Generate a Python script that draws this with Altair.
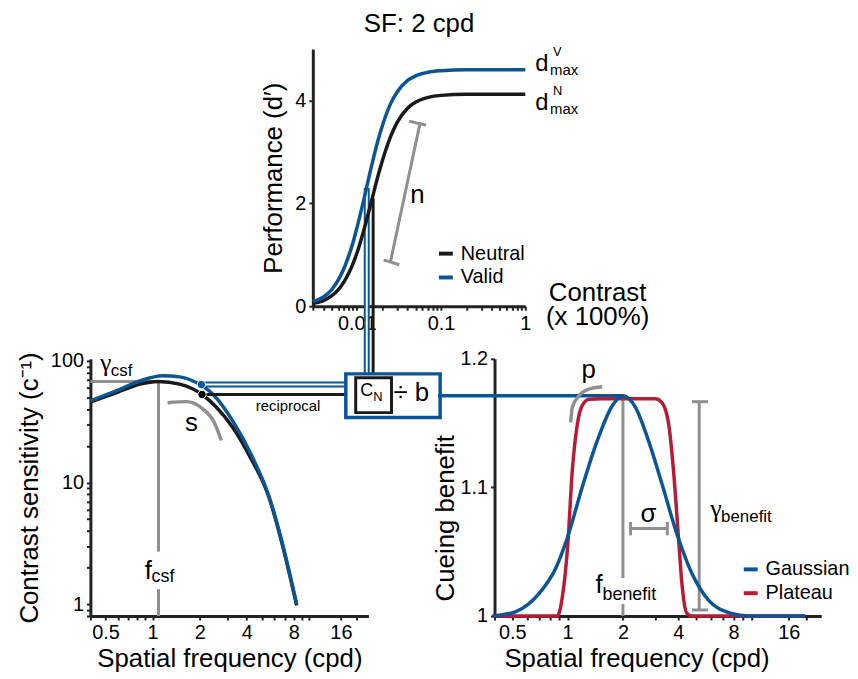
import altair as alt
import pandas as pd

FONT = "Liberation Sans"
GREEK = "Liberation Serif"
BLUE = "#0b5597"
RED = "#b81c35"
GRAY = "#8f8f8f"
INK = "#1a1a1a"

# ---------------- top panel: performance vs contrast (SF 2 cpd) ----------------
contrast = [0.003, 0.004, 0.005, 0.006, 0.007, 0.008, 0.009, 0.01, 0.012, 0.015, 0.018,
            0.02, 0.025, 0.03, 0.04, 0.05, 0.07, 0.1, 0.2, 0.5, 1.0]
dprime_neutral = [0.05, 0.11, 0.20, 0.32, 0.47, 0.64, 0.83, 1.03, 1.46, 2.06, 2.56,
                  2.82, 3.29, 3.57, 3.85, 3.97, 4.06, 4.10, 4.12, 4.12, 4.12]
dprime_valid = [0.09, 0.18, 0.32, 0.51, 0.73, 0.98, 1.24, 1.52, 2.05, 2.74, 3.25,
                3.50, 3.93, 4.16, 4.39, 4.48, 4.55, 4.58, 4.60, 4.60, 4.60]
perf_series = ["Neutral", "Valid"]
contrast_ticks = [0.003, 0.004, 0.005, 0.006, 0.007, 0.008, 0.009,
                  0.01, 0.02, 0.03, 0.04, 0.05, 0.06, 0.07, 0.08, 0.09,
                  0.1, 0.2, 0.3, 0.4, 0.5, 0.6, 0.7, 0.8, 0.9, 1]
contrast_labels = [0.01, 0.1, 1]
perf_ticks = [0, 2, 4]

# ---------------- left panel: contrast sensitivity functions ----------------
csf_freq_valid = [0.4, 0.59, 0.83, 1.16, 1.49, 1.9, 2.42, 3.24, 4.35, 5.56, 6.75, 8.34]
csf_valid = [47, 57, 68.5, 75.5, 74, 66.5, 53.5, 32.4, 16.2, 7.66, 3.19, 1.0]
csf_freq_neutral = [0.4, 0.59, 0.83, 1.09, 1.49, 2.07, 2.54, 3.24, 4.14, 5.56, 6.75, 8.34]
csf_neutral = [46, 55, 64.5, 67.8, 64.5, 53, 42, 28.6, 16.8, 7.5, 3.1, 0.98]
csf_ticks = [0.8, 0.9, 1, 2, 3, 4, 5, 6, 7, 8, 9, 10, 20, 30, 40, 50, 60, 70, 80, 90, 100]
csf_labels = [1, 10, 100]
sf_ticks = [0.4, 0.5, 0.6, 0.7, 0.8, 0.9, 1, 2, 3, 4, 5, 6, 7, 8, 9, 10, 16, 20]
sf_labels = [0.5, 1, 2, 4, 8, 16]
arc_s_freq = [1.246, 1.646, 2.08, 2.48, 2.75]
arc_s_val = [45.4, 46.3, 40.6, 31.2, 22.2]

# ---------------- right panel: cueing benefit ----------------
gauss_freq = [0.39, 0.52, 0.70, 0.86, 1.0, 1.2, 1.45, 1.75, 2.0, 2.34, 2.76, 3.26, 3.93,
              4.75, 5.84, 7.82, 9.6, 19.6]
gauss_val = [1.0, 1.0033, 1.0176, 1.037, 1.0615, 1.1002, 1.1364, 1.1636, 1.1713, 1.1623,
             1.136, 1.1029, 1.064, 1.033, 1.0124, 1.002, 1.0, 1.0]
plat_freq = [0.39, 0.879, 0.936, 1.0, 1.06, 1.129, 1.2, 1.305, 1.54, 3.0, 3.26, 3.55,
             3.77, 4.01, 4.19, 4.46, 4.75, 19.6]
plat_val = [1.0, 1.0, 1.015, 1.054, 1.113, 1.149, 1.1636, 1.1685, 1.169, 1.169, 1.166,
            1.149, 1.113, 1.0615, 1.025, 1.002, 1.0, 1.0]
benefit_series = ["Gaussian", "Plateau"]
benefit_ticks = [1, 1.1, 1.2]
arc_p_freq = [1.038, 1.06, 1.152, 1.305, 1.542]
arc_p_val = [1.1506, 1.1622, 1.1713, 1.1765, 1.1783]


def log_label_expr(labels):
    arr = ",".join(str(v) for v in labels)
    return f"indexof([{arr}], datum.value) >= 0 ? format(datum.value, '~g') : ''"


def segs(x, x2, y, y2):
    return pd.DataFrame({"x": x, "x2": x2, "y": y, "y2": y2})


def pts(x, y, t=None):
    d = {"x": x, "y": y}
    if t is not None:
        d["t"] = t
    return pd.DataFrame(d)


def text_layer(df, X, Y, size, dx=0, dy=0, align="left", baseline="alphabetic", font=FONT):
    return alt.Chart(df).mark_text(font=font, fontSize=size, dx=dx, dy=dy, align=align,
                                   baseline=baseline, color="black").encode(
        x=X, y=Y, text="t:N")


def rule_layer(df, X, Y, color, width, vertical_only=False):
    enc = dict(x=X, y=Y, y2="y2:Q")
    if not vertical_only:
        enc["x2"] = "x2:Q"
    return alt.Chart(df).mark_rule(color=color, strokeWidth=width, strokeCap="butt").encode(**enc)


def legend(x, y):
    return alt.Legend(orient="none", legendX=x, legendY=y, title=None,
                      symbolType="stroke", symbolStrokeWidth=4, symbolSize=196,
                      labelFont=FONT, labelFontSize=20, labelColor="black",
                      rowPadding=4, padding=0, labelOffset=5)


# =============================== TOP PANEL ===============================
n = len(contrast)
top_df = pd.DataFrame({"x": contrast * 2, "y": dprime_neutral + dprime_valid,
                       "cond": [perf_series[0]] * n + [perf_series[1]] * n})
Xt = alt.X("x:Q", scale=alt.Scale(type="log", domain=[0.003, 1]),
           axis=alt.Axis(values=contrast_ticks, labelExpr=log_label_expr(contrast_labels),
                         title=None, labelFlush=False, labelOverlap=False))
Yt = alt.Y("y:Q", scale=alt.Scale(domain=[0, 5], nice=False, zero=False),
           axis=alt.Axis(values=perf_ticks, title="Performance (d′)", titlePadding=8,
                         labelFlush=False))
Ct = alt.Color("cond:N", scale=alt.Scale(domain=perf_series, range=[INK, BLUE]),
               legend=legend(124, 196))

top_layers = [
    rule_layer(pts([0.0131], [2.3]).assign(y2=[-1.30]), Xt, Yt, BLUE, 6, True),
    rule_layer(pts([0.0131], [2.3]).assign(y2=[-1.30]), Xt, Yt, "white", 2, True),
    rule_layer(pts([0.0156], [2.1]).assign(y2=[-1.39]), Xt, Yt, INK, 3, True),
    rule_layer(segs([0.0251, 0.0208, 0.0417], [0.0566, 0.0318, 0.0661],
                    [0.87, 0.903, 3.60], [3.58, 0.807, 3.52]), Xt, Yt, GRAY, 3),
    alt.Chart(top_df).transform_filter(alt.datum.cond == "Neutral").mark_line(
        strokeWidth=3.5, interpolate="monotone").encode(x=Xt, y=Yt, color=Ct),
    alt.Chart(top_df).transform_filter(alt.datum.cond == "Valid").mark_line(
        strokeWidth=3.5, interpolate="monotone").encode(x=Xt, y=Yt, color=Ct),
    text_layer(pts([1.31, 1.31], [4.58, 3.81], ["d", "d"]), Xt, Yt, 24),
    text_layer(pts([1.31, 1.31], [4.58, 3.81], ["V", "N"]), Xt, Yt, 13, dx=18, dy=-15),
    text_layer(pts([1.31, 1.31], [4.58, 3.81], ["max", "max"]), Xt, Yt, 15, dx=15, dy=4),
    text_layer(pts([0.0523], [2.17], ["n"]), Xt, Yt, 26, align="center", baseline="middle"),
    text_layer(pts([7.22, 7.22], [0.095, -0.37], ["Contrast", "(x 100%)"]), Xt, Yt, 26,
               align="center"),
]
top = alt.layer(*top_layers).properties(
    width=214, height=259,
    title=alt.Title("SF: 2 cpd", font=FONT, fontSize=26, fontWeight="normal",
                    anchor="middle", offset=9, color="black"))

spacer = alt.Chart(pd.DataFrame({"a": [0]})).mark_point(opacity=0).encode(
    x=alt.X("a:Q", axis=None), y=alt.Y("a:Q", axis=None)).properties(width=224, height=259)

# =============================== LEFT PANEL ===============================
Xl = alt.X("x:Q", scale=alt.Scale(type="log", domain=[0.4, 24]),
           axis=alt.Axis(values=sf_ticks, labelExpr=log_label_expr(sf_labels),
                         title="Spatial frequency (cpd)", titlePadding=3,
                         labelFlush=False, labelOverlap=False))
Yl = alt.Y("y:Q", scale=alt.Scale(type="log", domain=[0.8, 104]),
           axis=alt.Axis(values=csf_ticks, labelExpr=log_label_expr(csf_labels),
                         title="Contrast sensitivity (c⁻¹)", titlePadding=8,
                         labelFlush=False, labelOverlap=False))

left_layers = [
    rule_layer(segs([0.4], [1.09], [67.8], [67.8]), Xl, Yl, GRAY, 3),
    rule_layer(pts([1.09, 1.09], [67.8, 1.33]).assign(y2=[2.71, 0.8]), Xl, Yl, GRAY, 3, True),
    alt.Chart(pts(arc_s_freq, arc_s_val)).mark_line(color=GRAY, strokeWidth=3.5,
                                                    interpolate="monotone").encode(x=Xl, y=Yl),
    alt.Chart(pts(csf_freq_neutral, csf_neutral)).mark_line(
        color=INK, strokeWidth=3.5, interpolate="monotone").encode(x=Xl, y=Yl),
    alt.Chart(pts(csf_freq_valid, csf_valid)).mark_line(
        color=BLUE, strokeWidth=3.5, interpolate="monotone").encode(x=Xl, y=Yl),
    rule_layer(segs([2.05], [17.2], [64], [64]), Xl, Yl, BLUE, 6),
    rule_layer(segs([2.05], [17.2], [64], [64]), Xl, Yl, "white", 2),
    rule_layer(segs([2.07], [19.9], [53], [53]), Xl, Yl, INK, 3),
    alt.Chart(pts([2.05], [64])).mark_circle(size=70, color=BLUE, opacity=1,
                                            stroke="white", strokeWidth=1).encode(x=Xl, y=Yl),
    alt.Chart(pts([2.07], [53])).mark_circle(size=70, color="black", opacity=1,
                                            stroke="white", strokeWidth=1).encode(x=Xl, y=Yl),
    alt.Chart(segs([17.2], [69], [78.3], [34.3])).mark_rect(
        fill="white", stroke=BLUE, strokeWidth=3.5).encode(x=Xl, x2="x2:Q", y=Yl, y2="y2:Q"),
    alt.Chart(segs([19.9], [33.7], [72.6], [37.6])).mark_rect(
        fill="white", stroke=INK, strokeWidth=3).encode(x=Xl, x2="x2:Q", y=Yl, y2="y2:Q"),
    text_layer(pts([21.3], [51.8], ["C"]), Xl, Yl, 18),
    text_layer(pts([21.3], [51.8], ["N"]), Xl, Yl, 13, dx=13, dy=5),
    text_layer(pts([34.7], [47.1], ["÷ b"]), Xl, Yl, 26),
    text_layer(pts([7.34], [39.1], ["reciprocal"]), Xl, Yl, 15, align="center"),
    text_layer(pts([0.46], [82.8], ["γ"]), Xl, Yl, 26, font=GREEK),
    text_layer(pts([0.46], [82.8], ["csf"]), Xl, Yl, 17, dx=11, dy=5),
    text_layer(pts([1.77], [26.8], ["s"]), Xl, Yl, 26, align="center"),
    text_layer(pts([0.889], [1.6], ["f"]), Xl, Yl, 26),
    text_layer(pts([0.889], [1.6], ["csf"]), Xl, Yl, 18, dx=7, dy=3),
]
left = alt.layer(*left_layers).properties(width=280, height=259)

# =============================== RIGHT PANEL ===============================
Xr = alt.X("x:Q", scale=alt.Scale(type="log", domain=[0.4, 24]),
           axis=alt.Axis(values=sf_ticks, labelExpr=log_label_expr(sf_labels),
                         title="Spatial frequency (cpd)", titlePadding=3, titleX=143,
                         labelFlush=False, labelOverlap=False))
Yr = alt.Y("y:Q", scale=alt.Scale(domain=[1, 1.2], nice=False, zero=False),
           axis=alt.Axis(values=benefit_ticks, format="~g", title="Cueing benefit",
                         titlePadding=2, titleY=160, labelFlush=False))
bdf = pd.DataFrame({"x": plat_freq + gauss_freq, "y": plat_val + gauss_val,
                    "model": ["Plateau"] * len(plat_freq) + ["Gaussian"] * len(gauss_freq)})
Cr = alt.Color("model:N", scale=alt.Scale(domain=benefit_series, range=[BLUE, RED]),
               legend=legend(248, 202))

right_layers = [
    rule_layer(segs([0.197], [2.0], [1.1713], [1.1713]), Xr, Yr, BLUE, 3.5),
    rule_layer(pts([2.0, 2.0], [1.1713, 1.0093]).assign(y2=[1.0295, 1.0]), Xr, Yr, GRAY, 3, True),
    rule_layer(segs([2.2, 2.2, 3.49], [3.49, 2.2, 3.49], [1.068, 1.0628, 1.0628],
                    [1.068, 1.0732, 1.0732]), Xr, Yr, GRAY, 3),
    rule_layer(segs([5.2, 4.75, 4.75], [5.2, 5.8, 5.8], [1.1667, 1.1667, 1.0047],
                    [1.0047, 1.1667, 1.0047]), Xr, Yr, GRAY, 3),
    alt.Chart(pts(arc_p_freq, arc_p_val)).mark_line(color=GRAY, strokeWidth=3.5,
                                                    interpolate="monotone").encode(x=Xr, y=Yr),
    alt.Chart(bdf).transform_filter(alt.datum.model == "Plateau").mark_line(
        strokeWidth=3.5, interpolate="monotone").encode(x=Xr, y=Yr, color=Cr),
    alt.Chart(bdf).transform_filter(alt.datum.model == "Gaussian").mark_line(
        strokeWidth=3.5, interpolate="monotone").encode(x=Xr, y=Yr, color=Cr),
    text_layer(pts([1.3], [1.185], ["p"]), Xr, Yr, 26, align="center"),
    text_layer(pts([2.75], [1.0729], ["σ"]), Xr, Yr, 26, align="center"),
    text_layer(pts([5.97], [1.0767], ["γ"]), Xr, Yr, 26, font=GREEK),
    text_layer(pts([5.97], [1.0767], ["benefit"]), Xr, Yr, 17, dx=11, dy=5),
    text_layer(pts([1.42], [1.0178], ["f"]), Xr, Yr, 26),
    text_layer(pts([1.42], [1.0178], ["benefit"]), Xr, Yr, 18, dx=7, dy=7),
]
right = alt.layer(*right_layers).properties(width=329, height=259)

bottom_row = alt.hconcat(left, right, spacing=127, bounds="flush").resolve_scale(
    x="independent", y="independent", color="independent")

chart = alt.concat(
    spacer, top, bottom_row, columns=2, bounds="flush",
    spacing=alt.RowColnumber(row=53, column=0)
).resolve_scale(
    x="independent", y="independent", color="independent"
).resolve_legend(color="independent").properties(
    padding={"left": 8, "top": 0, "right": 0, "bottom": 0}
).configure_view(stroke=None).configure_axis(
    domainColor="#222222", domainWidth=3, tickColor="#222222", tickWidth=2, tickSize=4,
    labelFont=FONT, labelFontSize=20, labelColor="black", labelPadding=3,
    titleFont=FONT, titleFontSize=26, titleFontWeight="normal", titleColor="black",
    grid=False)

chart.save("out.html", embed_options={"renderer": "svg", "actions": False})
